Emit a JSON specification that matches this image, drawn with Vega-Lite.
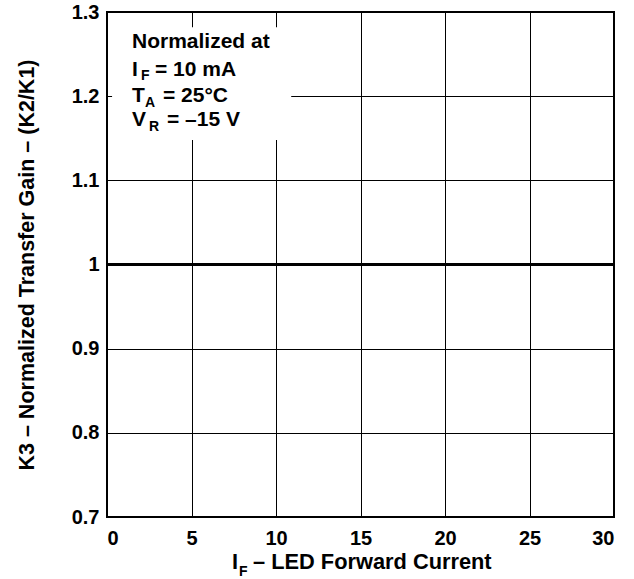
{
  "$schema": "https://vega.github.io/schema/vega-lite/v6.json",
  "width": 507,
  "height": 505,
  "autosize": "none",
  "padding": {"left": 107, "top": 12, "right": 20, "bottom": 62},
  "background": "white",
  "config": {
    "view": {"stroke": "black", "strokeWidth": 2},
    "axis": {
      "domain": false,
      "ticks": false,
      "grid": true,
      "gridColor": "black",
      "gridWidth": 1,
      "gridOpacity": 1,
      "labelFont": "Liberation Sans",
      "labelFontWeight": "bold",
      "labelFontSize": 20,
      "labelColor": "black",
      "titleFont": "Liberation Sans",
      "titleFontWeight": "bold",
      "titleFontSize": 21.5,
      "titleColor": "black"
    }
  },
  "datasets": {
    "curve": [{"IF": 0, "K3": 1}, {"IF": 30, "K3": 1}],
    "box": [{"x1": 0.3, "x2": 10.9, "y1": 1.148, "y2": 1.282}],
    "noteMain": [
      {"x": 1.479, "y": 1.2572, "t": "Normalized at"},
      {"x": 1.479, "y": 1.224, "t": "I"},
      {"x": 2.84, "y": 1.224, "t": "= 10 mA"},
      {"x": 1.479, "y": 1.1931, "t": "T"},
      {"x": 3.314, "y": 1.1931, "t": "= 25°C"},
      {"x": 1.479, "y": 1.1646, "t": "V"},
      {"x": 3.55, "y": 1.1646, "t": "= –15 V"}
    ],
    "titleMain": [
      {"x": 7.396, "y": 0.6382, "t": "I"},
      {"x": 8.64, "y": 0.6382, "t": "– LED Forward Current"}
    ],
    "noteSub": [
      {"x": 2.012, "y": 1.2192, "t": "F"},
      {"x": 2.249, "y": 1.1871, "t": "A"},
      {"x": 2.485, "y": 1.1586, "t": "R"},
      {"x": 7.81, "y": 0.6299, "t": "F"}
    ]
  },
  "layer": [
    {
      "data": {"name": "box"},
      "mark": {"type": "rect", "fill": "white", "stroke": null},
      "encoding": {
        "x": {"field": "x1", "type": "quantitative",
          "scale": {"domain": [0, 30], "nice": false},
          "axis": {"values": [0, 5, 10, 15, 20, 25, 30], "title": null, "labelPadding": 11}},
        "x2": {"field": "x2"},
        "y": {"field": "y1", "type": "quantitative",
          "scale": {"domain": [0.7, 1.3], "nice": false, "zero": false},
          "axis": {"values": [0.7, 0.8, 0.9, 1, 1.1, 1.2, 1.3], "format": "~g",
            "title": "K3 – Normalized Transfer Gain – (K2/K1)", "labelPadding": 8, "titlePadding": 33}},
        "y2": {"field": "y2"}
      }
    },
    {
      "data": {"name": "curve"},
      "mark": {"type": "line", "color": "black", "strokeWidth": 3},
      "encoding": {
        "x": {"field": "IF", "type": "quantitative"},
        "y": {"field": "K3", "type": "quantitative"}
      }
    },
    {
      "data": {"name": "noteMain"},
      "mark": {"type": "text", "align": "left", "baseline": "alphabetic", "font": "Liberation Sans", "fontWeight": "bold", "fontSize": 21, "color": "black"},
      "encoding": {
        "x": {"field": "x", "type": "quantitative"},
        "y": {"field": "y", "type": "quantitative"},
        "text": {"field": "t"}
      }
    },
    {
      "data": {"name": "titleMain"},
      "mark": {"type": "text", "align": "left", "baseline": "alphabetic", "font": "Liberation Sans", "fontWeight": "bold", "fontSize": 21.8, "color": "black"},
      "encoding": {
        "x": {"field": "x", "type": "quantitative"},
        "y": {"field": "y", "type": "quantitative"},
        "text": {"field": "t"}
      }
    },
    {
      "data": {"name": "noteSub"},
      "mark": {"type": "text", "align": "left", "baseline": "alphabetic", "font": "Liberation Sans", "fontWeight": "bold", "fontSize": 14, "color": "black"},
      "encoding": {
        "x": {"field": "x", "type": "quantitative"},
        "y": {"field": "y", "type": "quantitative"},
        "text": {"field": "t"}
      }
    }
  ]
}
